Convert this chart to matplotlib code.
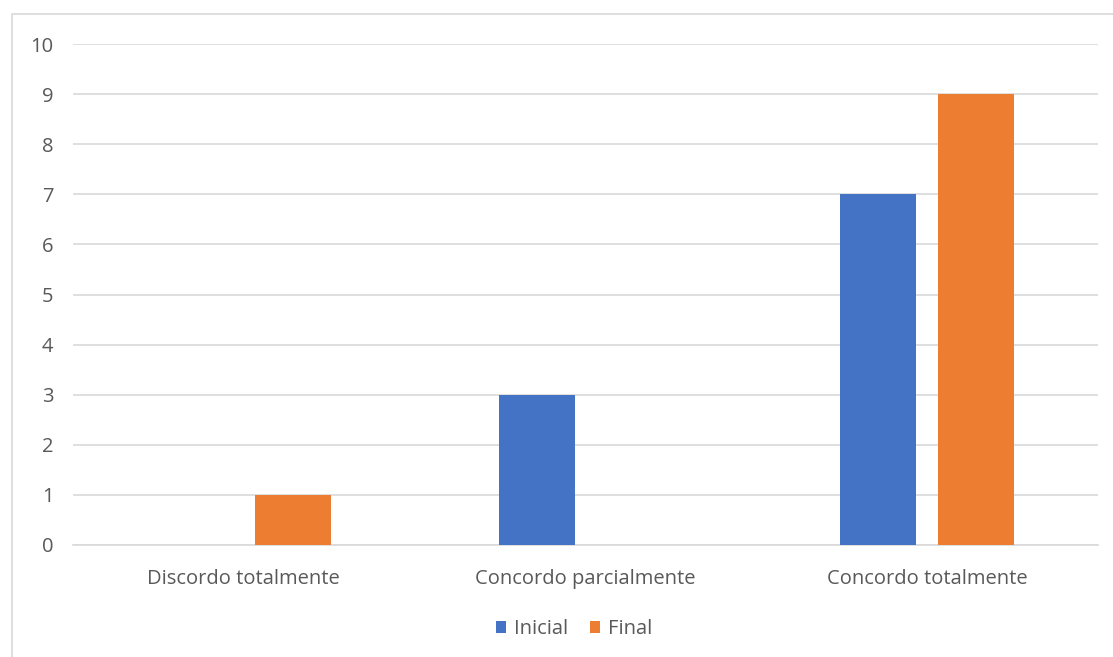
import matplotlib.pyplot as plt
import matplotlib.patches as mpatches
import numpy as np

plt.rcParams['font.family'] = ['Open Sans', 'DejaVu Sans']

categorias = ['Discordo totalmente', 'Concordo parcialmente', 'Concordo totalmente']
inicial = [0, 3, 7]
final = [1, 0, 9]

azul = '#4472C4'
laranja = '#ED7D31'
cinza_texto = '#595959'
cinza_grade = '#D9D9D9'

fig = plt.figure(figsize=(11.13, 6.57), dpi=100)
ax = fig.add_axes([73 / 1113, 1 - 545 / 657, 1025 / 1113, 501 / 657])

# moldura da área do gráfico
fig.patches.append(mpatches.Rectangle((12 / 1113, -0.1), 1.2, 1.1 - 14 / 657,
                                      transform=fig.transFigure, fill=False,
                                      edgecolor=cinza_grade, linewidth=1.2))

x = np.arange(len(categorias))
largura = 0.222
desloc = 0.143
ax.bar(x - desloc, inicial, largura, color=azul, label='Inicial', zorder=3)
ax.bar(x + desloc, final, largura, color=laranja, label='Final', zorder=3)

ax.set_xlim(-0.5, 2.5)
ax.set_ylim(0, 10)
ax.set_yticks(range(0, 11))
ax.set_xticks(x)
ax.set_xticklabels(categorias)
ax.grid(axis='y', color=cinza_grade, linewidth=1.2, zorder=0)
for lado in ['top', 'right', 'left']:
    ax.spines[lado].set_visible(False)
ax.spines['bottom'].set_color(cinza_grade)
ax.spines['bottom'].set_linewidth(1.2)
ax.tick_params(axis='both', length=0, colors=cinza_texto, labelsize=14.5)
ax.tick_params(axis='y', pad=14)
ax.tick_params(axis='x', pad=17.5)

fig.legend(loc='center', bbox_to_anchor=(574 / 1113, 1 - 629 / 657), ncol=2,
           frameon=False, fontsize=14.5, labelcolor=cinza_texto,
           handlelength=0.5, handleheight=0.5, handletextpad=0.4, columnspacing=1.1)

fig.savefig('out.png', dpi=100)
